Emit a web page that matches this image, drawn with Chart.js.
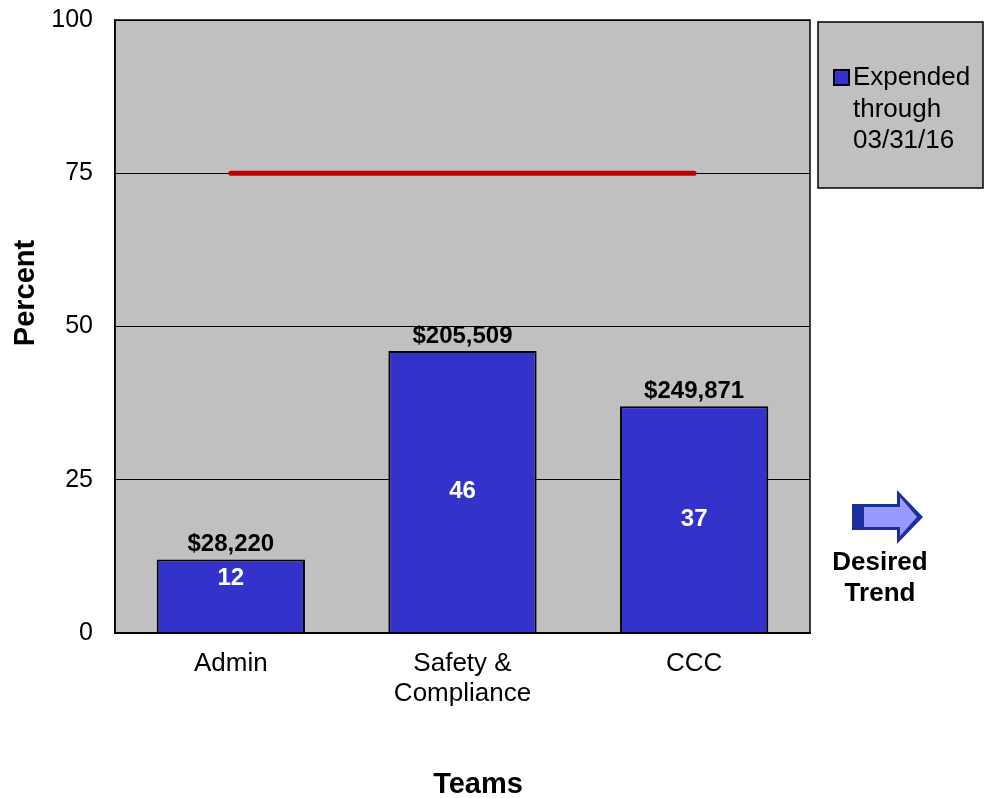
<!DOCTYPE html>
<html>
<head>
<meta charset="utf-8">
<script src="https://cdn.jsdelivr.net/npm/chart.js@4/dist/chart.umd.min.js"></script>
<style>
  body { margin: 0; background: #fff; }
  #wrap { width: 988px; height: 798px; }
</style>
</head>
<body>
<div id="wrap"><canvas id="teamChart" width="988" height="798"></canvas></div>
<script>
// --- data ---
const teams = [['Admin'], ['Safety &', 'Compliance'], ['CCC']];
const percentExpended = [12, 46, 37];
const dollarsExpended = ['$28,220', '$205,509', '$249,871'];
const targetLine = [75, 75, 75];
const yTicks = [0, 25, 50, 75, 100];

const legendLines = ['Expended', 'through', '03/31/16'];
const trendLines = ['Desired', 'Trend'];
const yTitle = 'Percent';
const xTitle = 'Teams';

const FONT = '"Liberation Sans", Arial, sans-serif';
const BAR_BLUE = '#3333CC';
const PLOT_GRAY = '#C0C0C0';

// plot background, frame, labels, legend box, arrow
const decorPlugin = {
    id: 'decor',
    beforeDraw(chart) {
        const { ctx, chartArea: a } = chart;
        ctx.save();
        ctx.fillStyle = PLOT_GRAY;
        ctx.fillRect(a.left, a.top, a.right - a.left, a.bottom - a.top);
        ctx.restore();
    },
    afterDraw(chart) {
        const { ctx, chartArea: a } = chart;
        ctx.save();

        // frame
        ctx.strokeStyle = '#000';
        ctx.lineWidth = 1.5;
        ctx.strokeRect(a.left, a.top, a.right - a.left, a.bottom - a.top);

        // bar labels (bar dataset is index 1)
        const bars = chart.getDatasetMeta(1).data;
        ctx.textAlign = 'center';
        ctx.textBaseline = 'middle';
        bars.forEach((bar, i) => {
            ctx.fillStyle = '#000';
            ctx.font = 'bold 24px ' + FONT;
            ctx.fillText(dollarsExpended[i], bar.x, bar.y - 15);

            const h = bar.base - bar.y;
            const yIn = h < 100 ? bar.y + 19 : (bar.y + bar.base) / 2;
            ctx.fillStyle = '#fff';
            ctx.fillText(String(percentExpended[i]), bar.x, yIn);
        });

        // axis titles
        ctx.fillStyle = '#000';
        ctx.font = 'bold 29px ' + FONT;
        ctx.fillText(xTitle, 478, 785);
        ctx.save();
        ctx.translate(26, 293);
        ctx.rotate(-Math.PI / 2);
        ctx.fillText(yTitle, 0, 0);
        ctx.restore();

        // legend box
        ctx.fillStyle = PLOT_GRAY;
        ctx.fillRect(818, 22, 165, 166);
        ctx.lineWidth = 1.5;
        ctx.strokeStyle = '#000';
        ctx.strokeRect(818, 22, 165, 166);
        ctx.fillStyle = BAR_BLUE;
        ctx.fillRect(834, 70, 15, 15);
        ctx.lineWidth = 2;
        ctx.strokeRect(834, 70, 15, 15);
        ctx.fillStyle = '#000';
        ctx.font = '26px ' + FONT;
        ctx.textAlign = 'left';
        legendLines.forEach((t, i) => ctx.fillText(t, 853, 78 + i * 31.5));

        // desired trend arrow
        ctx.fillStyle = '#1C2FA0';
        ctx.beginPath();
        ctx.moveTo(852, 504);
        ctx.lineTo(897, 504);
        ctx.lineTo(897, 490);
        ctx.lineTo(923, 517);
        ctx.lineTo(897, 544);
        ctx.lineTo(897, 530);
        ctx.lineTo(852, 530);
        ctx.closePath();
        ctx.fill();
        ctx.fillStyle = '#9999FF';
        ctx.beginPath();
        ctx.moveTo(864, 507);
        ctx.lineTo(900, 507);
        ctx.lineTo(900, 497);
        ctx.lineTo(917, 517);
        ctx.lineTo(900, 536);
        ctx.lineTo(900, 527);
        ctx.lineTo(864, 527);
        ctx.closePath();
        ctx.fill();

        ctx.fillStyle = '#000';
        ctx.font = 'bold 26px ' + FONT;
        ctx.textAlign = 'center';
        trendLines.forEach((t, i) => ctx.fillText(t, 880, 563 + i * 31));

        ctx.restore();
    }
};

new Chart(document.getElementById('teamChart'), {
    data: {
        labels: teams,
        datasets: [{
            type: 'line',
            label: 'Target',
            data: targetLine,
            borderColor: '#C00000',
            borderWidth: 5,
            borderCapStyle: 'round',
            pointRadius: 0,
            fill: false,
            order: 0
        }, {
            type: 'bar',
            label: 'Expended through 03/31/16',
            data: percentExpended,
            backgroundColor: BAR_BLUE,
            borderColor: '#000',
            borderWidth: 2,
            barPercentage: 0.64,
            categoryPercentage: 1.0,
            order: 1
        }]
    },
    options: {
        responsive: false,
        animation: false,
        layout: { padding: { top: 20, right: 178, left: 0, bottom: 0 } },
        scales: {
            x: {
                afterFit(scale) { scale.height = 165; },
                grid: { display: false, drawTicks: false },
                border: { color: '#000', width: 1.5 },
                ticks: {
                    color: '#000',
                    padding: 16,
                    maxRotation: 0,
                    font: { family: FONT, size: 26, lineHeight: 1.15 }
                }
            },
            y: {
                min: 0,
                max: 100,
                afterFit(scale) {
                    scale.width = 115;
                    scale.paddingTop = 0;
                    scale.paddingBottom = 0;
                },
                afterBuildTicks(scale) { scale.ticks = yTicks.map(v => ({ value: v })); },
                grid: { color: '#000', lineWidth: 1, drawTicks: false },
                border: { color: '#000', width: 1.5 },
                ticks: {
                    color: '#000',
                    padding: 22,
                    font: { family: FONT, size: 25 }
                }
            }
        },
        plugins: {
            legend: { display: false },
            tooltip: { enabled: false }
        }
    },
    plugins: [decorPlugin]
});
</script>
</body>
</html>
